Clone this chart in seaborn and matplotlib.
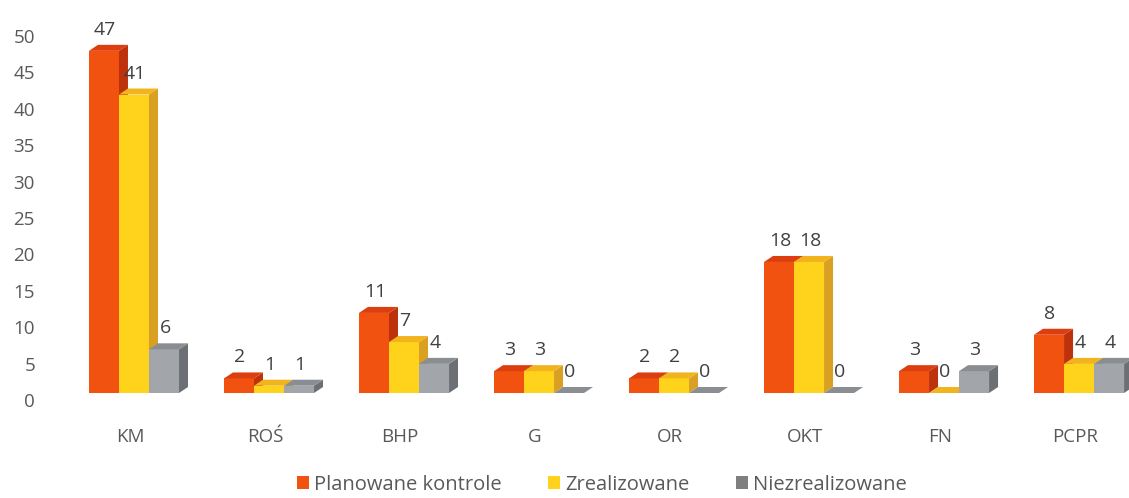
import numpy as np
import pandas as pd
import matplotlib
matplotlib.use("Agg")
import matplotlib.pyplot as plt
import seaborn as sns
from matplotlib.patches import Polygon, Patch
from matplotlib.transforms import ScaledTranslation

categories = ["KM", "ROŚ", "BHP", "G", "OR", "OKT", "FN", "PCPR"]
planowane = [47, 2, 11, 3, 2, 18, 3, 8]
zrealizowane = [41, 1, 7, 3, 2, 18, 0, 4]
niezrealizowane = [6, 1, 4, 0, 0, 0, 3, 4]
series = ["Planowane kontrole", "Zrealizowane", "Niezrealizowane"]
yticks = [0, 5, 10, 15, 20, 25, 30, 35, 40, 45, 50]

front_colors = ["#F2520F", "#FFD21C", "#A2A6AA"]
top_colors = ["#DC3E10", "#F2B41C", "#8A8E93"]
side_colors = ["#BE310D", "#D9A024", "#6C7075"]
legend_colors = ["#F2520F", "#FFD21C", "#7F7F7F"]

rows = []
for s, vals in zip(series, [planowane, zrealizowane, niezrealizowane]):
    for c, v in zip(categories, vals):
        rows.append({"cat": c, "val": v, "series": s})
df = pd.DataFrame(rows)

sns.set_theme(style="white")
plt.rcParams["font.family"] = ["Open Sans", "DejaVu Sans"]

W, H = 1129, 498
fig = plt.figure(figsize=(W / 100, H / 100), dpi=100)
ax = fig.add_axes([60 / W, (H - 393) / H, 1 - 60 / W, (393 - 29) / H])

sns.barplot(data=df, x="cat", y="val", hue="series", order=categories,
            hue_order=series, palette=front_colors, width=0.667,
            saturation=1, ax=ax, legend=False, linewidth=0, edgecolor="none")

ax.set_xlim(-0.548, 7.37)
ax.set_ylim(0, 50)
ax.set_yticks(yticks)
ax.set_xlabel("")
ax.set_ylabel("")
sns.despine(ax=ax, left=True, bottom=True)
ax.grid(False)
ax.tick_params(axis="both", length=0, labelcolor="#595959", labelsize=13.5)
ax.tick_params(axis="y", pad=18)
ax.tick_params(axis="x", pad=25)
shift = ScaledTranslation(0, -0.07, fig.dpi_scale_trans)
for lab in ax.get_yticklabels():
    lab.set_transform(lab.get_transform() + shift)
xshift = ScaledTranslation(-0.04, 0, fig.dpi_scale_trans)
for lab in ax.get_xticklabels():
    lab.set_transform(lab.get_transform() + xshift)

# 3D faces derived from the bars
t = ax.transData
px_per_x = t.transform((1, 0))[0] - t.transform((0, 0))[0]
px_per_y = t.transform((0, 1))[1] - t.transform((0, 0))[1]
dx = 9 / px_per_x
dy = 6 / px_per_y

bars = sorted([p for p in ax.patches], key=lambda p: p.get_x())
bar_w = bars[0].get_width()
for k, p in enumerate(bars):
    cx = p.get_x() + p.get_width() / 2
    j = int(round((cx - round(cx)) / bar_w)) + 1
    j = max(0, min(2, j))
    x0, w, h = p.get_x(), p.get_width(), p.get_height()
    x1 = x0 + w
    z = 2 + k * 0.01
    p.set_zorder(z)
    p.set_facecolor(front_colors[j])
    side = Polygon([(x1, 0), (x1 + dx, dy), (x1 + dx, h + dy), (x1, h)],
                   closed=True, facecolor=side_colors[j], edgecolor="none", zorder=z)
    top = Polygon([(x0, h), (x0 + dx, h + dy), (x1 + dx, h + dy), (x1, h)],
                  closed=True, facecolor=top_colors[j], edgecolor="none", zorder=z)
    ax.add_patch(side)
    ax.add_patch(top)
    ax.annotate(f"{int(round(h))}", (x0 + w / 2, h), xytext=(1, 12),
                textcoords="offset pixels", ha="center", va="bottom",
                fontsize=14, color="#404040", zorder=10, annotation_clip=False)

handles = [Patch(facecolor=c, edgecolor="none") for c in legend_colors]
fig.legend(handles, series, loc="lower center", bbox_to_anchor=(0.533, -0.022),
           ncol=3, frameon=False, handlelength=0.6, handleheight=0.6,
           handletextpad=0.25, columnspacing=2.3, fontsize=14.5,
           labelcolor="#595959", borderpad=0.2)

fig.savefig("out.png", dpi=100)
